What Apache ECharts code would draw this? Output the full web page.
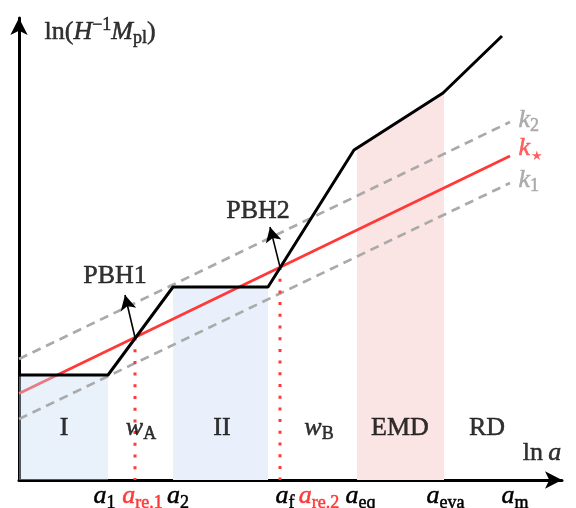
<!DOCTYPE html>
<html>
<head>
<meta charset="utf-8">
<script src="https://cdn.jsdelivr.net/npm/echarts@6/dist/echarts.min.js"></script>
<style>html,body{margin:0;padding:0;background:#fff;}#c{width:576px;height:508px;}</style>
</head>
<body>
<div id="c"></div>
<script>
// ---- data (schematic units: ln a on x, ln(H^-1 Mpl) on y) ----
const hubbleRadius = [[0, 21], [17.8, 21], [30.8, 38.6], [49.8, 38.6], [67, 66], [84.8, 77.4], [96.6, 88.8]];
const kStar = [[0, 17.3], [98.2, 64.8]];
const k2 = [[0, 24.2], [98.2, 71.6]];
const k1 = [[0, 12.2], [98.2, 59.4]];
const regionI = [[0, 21], [17.8, 21]];
const regionII = [[30.8, 38.6], [49.8, 38.6]];
const regionEMD = [[67.6, 66.4], [85, 77.5]];
const reEntry1 = [[23.2, 28.5], [23.2, 0]];
const reEntry2 = [[52.2, 42.6], [52.2, 0]];
const arrowPBH1 = [[23.2, 28.5], [21.2, 37]];
const arrowPBH2 = [[52.2, 42.6], [50.2, 50.6]];
const tickPos = [17.1, 24.7, 31.8, 53.2, 60, 68.3, 85.3, 99.2];
const tickLabels = ['{m|a}{sub|1}', '{mR|a}{subR|re.1}', '{m|a}{sub|2}', '{m|a}{sub|f}', '{mR|a}{subR|re.2}', '{m|a}{sub|eq}', '{m|a}{sub|eva}', '{m|a}{sub|m}'];
const regionLabels = [
  {pos: [9, 10.4], text: '{r|I}'},
  {pos: [24.4, 10.4], text: '{m|w}{sub|A}'},
  {pos: [40.6, 10.4], text: '{r|II}'},
  {pos: [60, 10.4], text: '{m|w}{sub|B}'},
  {pos: [76.2, 10.4], text: '{r|EMD}'},
  {pos: [93.6, 10.4], text: '{r|RD}'},
  {pos: [104.6, 5.4], text: '{r|ln\u2009}{m|a}'},
  {pos: [19.2, 40.8], text: '{r|PBH1}'},
  {pos: [47.8, 53.8], text: '{r|PBH2}'}
];
const leftLabels = [
  {pos: [5.0, 89.6], text: '{r|ln(}{m|H}{sup|\u22121}{m|M}{sub|pl}{r|)}'},
  {pos: [99.8, 72], text: '{mG|k}{subG|2}'},
  {pos: [99.8, 66.4], text: '{mR|k}{star|\u2605}'},
  {pos: [99.8, 60], text: '{mG|k}{subG|1}'}
];

const RED = '#ff3838', GRAY = '#aaaaaa', FF = 'Liberation Serif';
const FS = 26, SS = 18, LH = 31, SLH = 24;
function tok(o, col) {
  return Object.assign({fontFamily: FF, color: col, textBorderColor: col, textBorderWidth: 0.5}, o);
}
const rich = {
  m: tok({fontSize: FS, lineHeight: LH, fontStyle: 'italic'}, '#000'),
  r: tok({fontSize: FS, lineHeight: LH}, '#000'),
  sub: tok({fontSize: SS, lineHeight: SLH, verticalAlign: 'bottom'}, '#000'),
  sup: tok({fontSize: SS, lineHeight: 18, verticalAlign: 'top'}, '#000'),
  mR: tok({fontSize: FS, lineHeight: LH, fontStyle: 'italic'}, RED),
  subR: tok({fontSize: SS, lineHeight: SLH, verticalAlign: 'bottom'}, RED),
  star: tok({fontFamily: 'DejaVu Sans', fontSize: 13, lineHeight: 22, verticalAlign: 'bottom', padding: [0, 0, 0, 1], textBorderWidth: 0}, RED),
  mG: tok({fontSize: FS, lineHeight: LH, fontStyle: 'italic'}, '#9a9a9a'),
  subG: tok({fontSize: SS, lineHeight: SLH, verticalAlign: 'bottom'}, '#9a9a9a')
};

function lineSeries(data, color, width, type, z) {
  return {type: 'line', data: data, z: z, silent: true, showSymbol: false, symbol: 'none',
    lineStyle: {color: color, width: width, type: type, cap: 'butt'}};
}
function areaSeries(data, color, z) {
  return {type: 'line', data: data, z: z, silent: true, showSymbol: false, symbol: 'none',
    lineStyle: {width: 0, opacity: 0}, areaStyle: {color: color, opacity: 1}};
}
function arrowSeries(seg) {
  return {type: 'line', data: [], z: 8, silent: true,
    markLine: {silent: true, animation: false, symbol: ['none', 'arrow'], symbolSize: [12, 15],
      label: {show: false}, lineStyle: {color: '#000', width: 1.6, type: 'solid'},
      data: [[{coord: seg[0]}, {coord: seg[1]}]]}};
}
const labelBase = {show: true, color: '#000', fontFamily: FF, fontSize: FS, textBorderWidth: 0, rich: rich};

const chart = echarts.init(document.getElementById('c'), null, {renderer: 'canvas'});
chart.setOption({
  animation: false,
  backgroundColor: '#fff',
  grid: {left: 19, right: 14, top: 18, bottom: 28, containLabel: false, outerBoundsMode: 'none'},
  xAxis: {
    type: 'value', min: 0, max: 108.6, splitLine: {show: false}, axisTick: {show: false},
    axisLine: {show: true, onZero: true, symbol: ['none', 'arrow'], symbolSize: [13, 17],
      lineStyle: {color: '#000', width: 3}},
    axisLabel: {show: true, customValues: tickPos, margin: 1, color: '#000', rich: rich,
      formatter: function (v) { const i = tickPos.indexOf(v); return i >= 0 ? tickLabels[i] : ''; }}
  },
  yAxis: {
    type: 'value', min: 0, max: 92.4, splitLine: {show: false}, axisTick: {show: false},
    axisLabel: {show: false},
    axisLine: {show: true, onZero: true, symbol: ['none', 'arrow'], symbolSize: [13, 17],
      lineStyle: {color: '#000', width: 3}}
  },
  series: [
    areaSeries(regionEMD, '#fbe4e4', 1),
    areaSeries(regionII, '#e9f0fb', 1),
    lineSeries(kStar, RED, 2.7, 'solid', 2),
    areaSeries(regionI, 'rgba(200,220,245,0.4)', 3),
    lineSeries(k2, GRAY, 2.7, [9, 6], 4),
    lineSeries(k1, GRAY, 2.7, [9, 6], 4),
    lineSeries(reEntry1, RED, 3, [3, 8.7], 4),
    lineSeries(reEntry2, RED, 3, [3, 8.7], 4),
    lineSeries(hubbleRadius, '#000', 3, 'solid', 5),
    arrowSeries(arrowPBH1),
    arrowSeries(arrowPBH2),
    {type: 'scatter', z: 9, silent: true, symbolSize: 1, itemStyle: {color: 'rgba(0,0,0,0)'}, clip: false,
      data: regionLabels.map(d => ({value: d.pos, label: Object.assign({}, labelBase, {position: 'inside', formatter: d.text})}))},
    {type: 'scatter', z: 9, silent: true, symbolSize: 1, itemStyle: {color: 'rgba(0,0,0,0)'}, clip: false,
      data: leftLabels.map(d => ({value: d.pos, label: Object.assign({}, labelBase, {position: 'right', distance: 0, formatter: d.text})}))}
  ]
});
</script>
</body>
</html>
